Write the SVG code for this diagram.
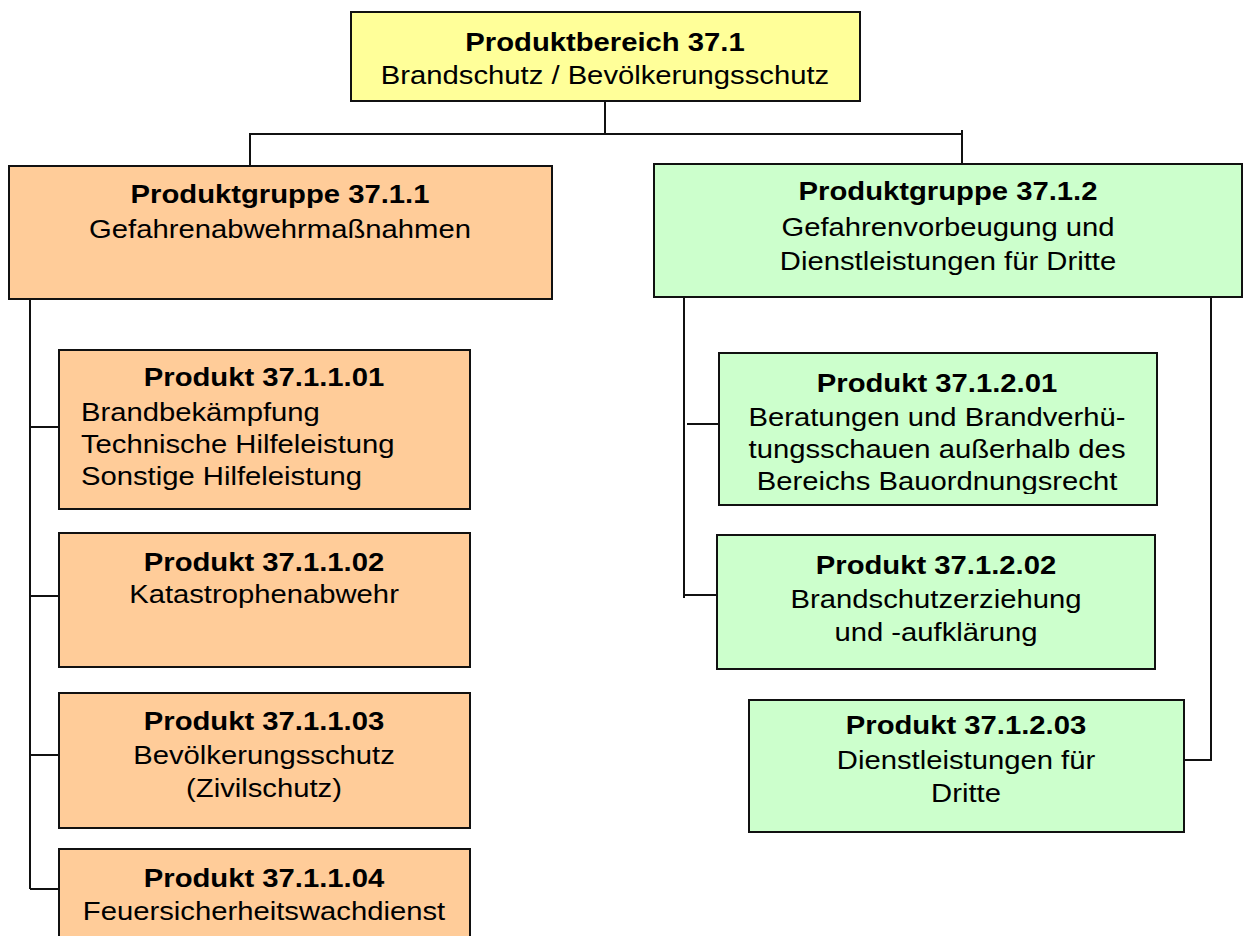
<svg xmlns="http://www.w3.org/2000/svg" width="1244" height="936" viewBox="0 0 1244 936">
<style>
.box{stroke:#111;stroke-width:2}
.o{fill:#FFCC99}
.g{fill:#CCFFCC}
.y{fill:#FFFF99}
.t{font-family:"Liberation Sans",Arial,sans-serif;font-size:25px;fill:#000}
.b{font-weight:bold}
.c{text-anchor:middle}
.conn{stroke:#111;stroke-width:2;fill:none}
</style>
<defs>
<clipPath id="clipR1"><rect x="719" y="353" width="438" height="141"/></clipPath>
</defs>
<rect width="1244" height="936" fill="#fff"/>
<g id="connectors">
<path class="conn" d="M605 101V134M250 166V134H962M962 130V164"/>
<path class="conn" d="M30 299V889M30 427H59M30 596H59M30 755H59M30 889H59"/>
<path class="conn" d="M684 297V598M687 424H719M684 595H717"/>
<path class="conn" d="M1211 297V760H1184"/>
</g>
<g id="n-371">
<rect class="box y" x="351" y="12" width="509" height="89"/>
<text class="t c" transform="translate(605 0) scale(1.17 1)"><tspan class="b" x="0" y="51">Produktbereich 37.1</tspan><tspan x="0" y="84">Brandschutz / Bevölkerungsschutz</tspan></text>
</g>
<g id="n-3711">
<rect class="box o" x="9" y="166" width="543" height="133"/>
<text class="t c" transform="translate(280 0) scale(1.17 1)"><tspan class="b" x="0" y="203">Produktgruppe 37.1.1</tspan><tspan x="0" y="238">Gefahrenabwehrmaßnahmen</tspan></text>
</g>
<g id="n-3712">
<rect class="box g" x="654" y="164" width="588" height="133"/>
<text class="t c" transform="translate(948 0) scale(1.17 1)"><tspan class="b" x="0" y="200">Produktgruppe 37.1.2</tspan><tspan x="0" y="236">Gefahrenvorbeugung und</tspan><tspan x="0" y="270">Dienstleistungen für Dritte</tspan></text>
</g>
<g id="n-371101">
<rect class="box o" x="59" y="350" width="411" height="159"/>
<text class="t c b" transform="translate(264 0) scale(1.17 1)" x="0" y="386">Produkt 37.1.1.01</text>
<text class="t" transform="translate(81 0) scale(1.17 1)"><tspan x="0" y="421">Brandbekämpfung</tspan><tspan x="0" y="453">Technische Hilfeleistung</tspan><tspan x="0" y="485">Sonstige Hilfeleistung</tspan></text>
</g>
<g id="n-371102">
<rect class="box o" x="59" y="533" width="411" height="134"/>
<text class="t c" transform="translate(264 0) scale(1.17 1)"><tspan class="b" x="0" y="571">Produkt 37.1.1.02</tspan><tspan x="0" y="603">Katastrophenabwehr</tspan></text>
</g>
<g id="n-371103">
<rect class="box o" x="59" y="693" width="411" height="135"/>
<text class="t c" transform="translate(264 0) scale(1.17 1)"><tspan class="b" x="0" y="730">Produkt 37.1.1.03</tspan><tspan x="0" y="764">Bevölkerungsschutz</tspan><tspan x="0" y="797">(Zivilschutz)</tspan></text>
</g>
<g id="n-371104">
<rect class="box o" x="59" y="849" width="411" height="100"/>
<text class="t c" transform="translate(264 0) scale(1.17 1)"><tspan class="b" x="0" y="887">Produkt 37.1.1.04</tspan><tspan x="0" y="920">Feuersicherheitswachdienst</tspan></text>
</g>
<g id="n-371201">
<rect class="box g" x="719" y="353" width="438" height="152"/>
<g clip-path="url(#clipR1)">
<text class="t c" transform="translate(937 0) scale(1.17 1)"><tspan class="b" x="0" y="392">Produkt 37.1.2.01</tspan><tspan x="0" y="426">Beratungen und Brandverhü-</tspan><tspan x="0" y="458">tungsschauen außerhalb des</tspan><tspan x="0" y="490">Bereichs Bauordnungsrecht</tspan></text>
</g>
</g>
<g id="n-371202">
<rect class="box g" x="717" y="535" width="438" height="134"/>
<text class="t c" transform="translate(936 0) scale(1.17 1)"><tspan class="b" x="0" y="574">Produkt 37.1.2.02</tspan><tspan x="0" y="608">Brandschutzerziehung</tspan><tspan x="0" y="641">und -aufklärung</tspan></text>
</g>
<g id="n-371203">
<rect class="box g" x="749" y="700" width="435" height="132"/>
<text class="t c" transform="translate(966 0) scale(1.17 1)"><tspan class="b" x="0" y="734">Produkt 37.1.2.03</tspan><tspan x="0" y="769">Dienstleistungen für</tspan><tspan x="0" y="802">Dritte</tspan></text>
</g>
</svg>
